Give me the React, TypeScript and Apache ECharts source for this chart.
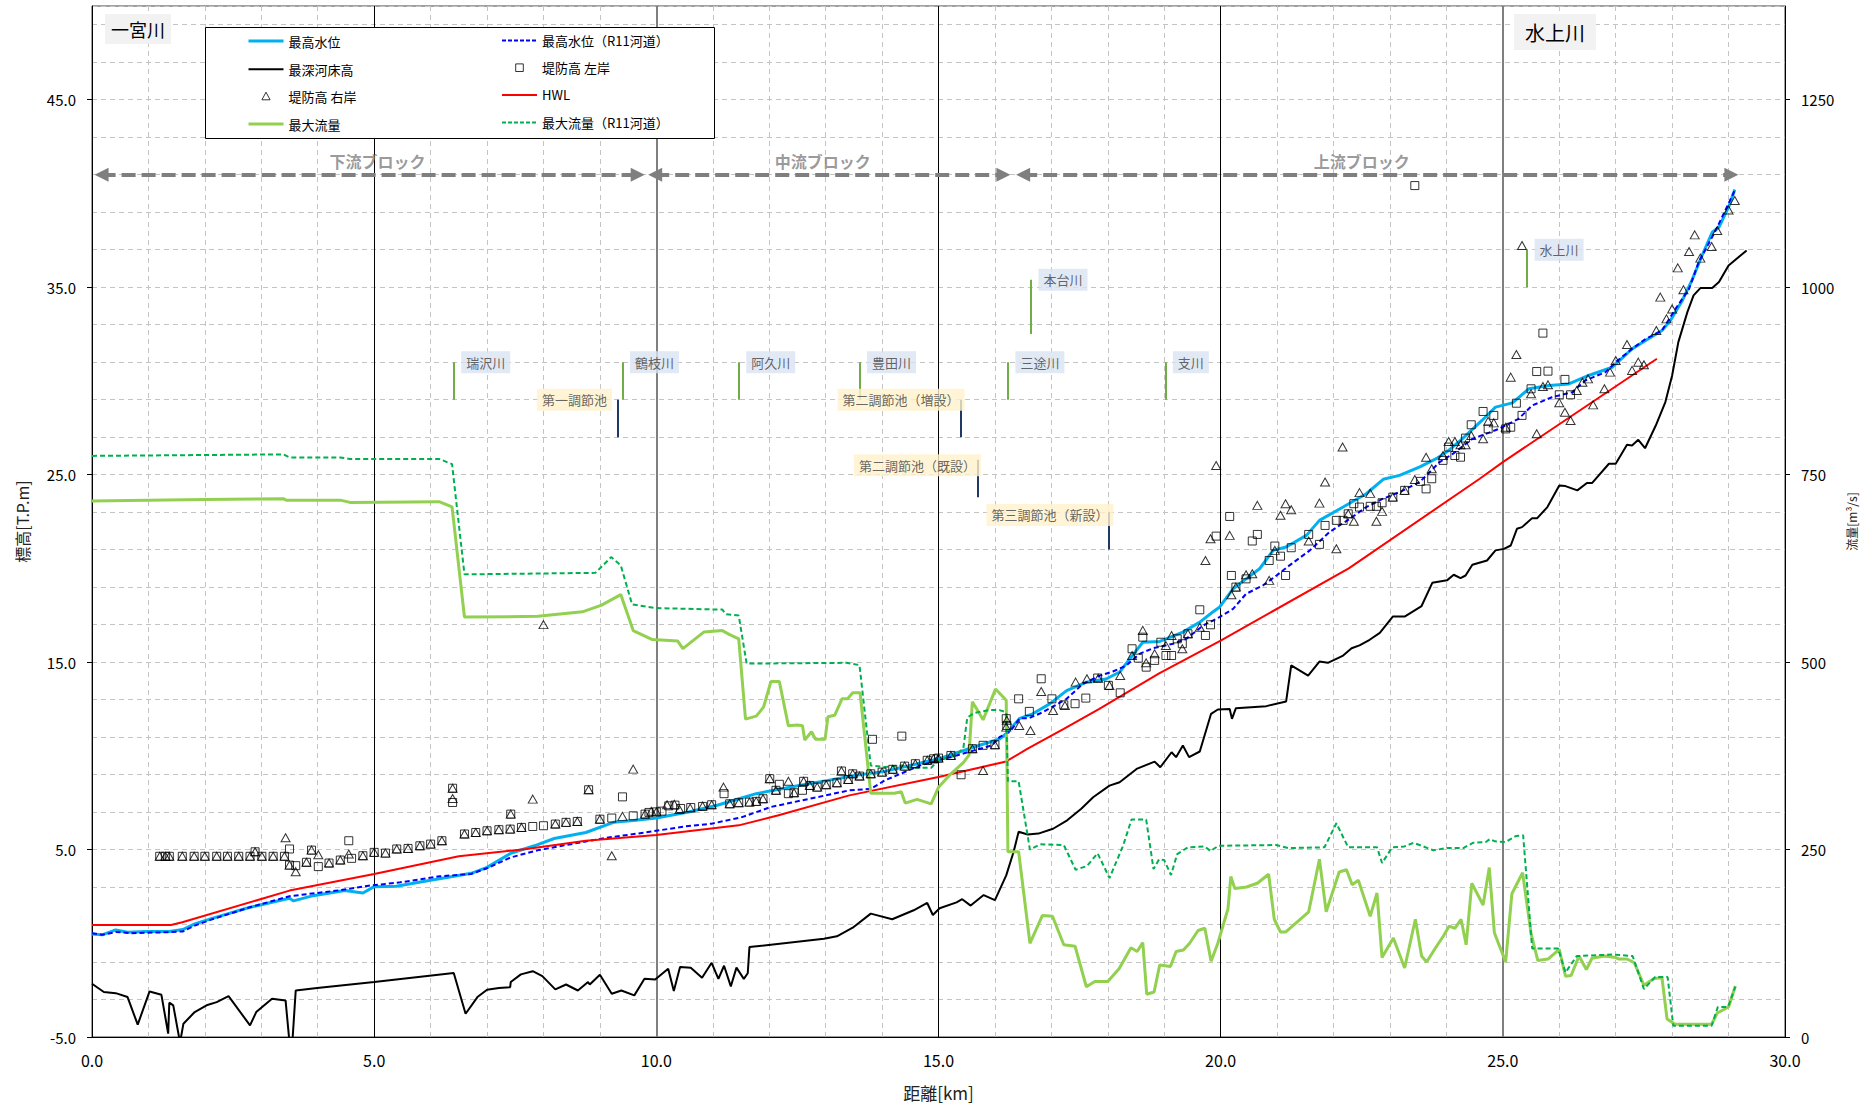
import React, { useEffect, useRef } from 'react';
import * as echarts from 'echarts';

// ---------------- axis ticks ----------------
const leftTicks = [-5, 5, 15, 25, 35, 45];
const rightTicks = [0, 250, 500, 750, 1000, 1250];

// ---------------- series data [km, value] ----------------
const maxWaterLevel = [
  [0, 0.5], [0.18, 0.45], [0.42, 0.71], [0.63, 0.59], [0.98, 0.63], [1.37, 0.63], [1.61, 0.73], [1.82, 1.03],
  [2.1, 1.3], [2.8, 1.92], [3.5, 2.4], [3.57, 2.26], [3.92, 2.54], [4.48, 2.81], [4.8, 2.68], [5.0, 3.02],
  [5.39, 3.04], [5.95, 3.34], [6.72, 3.73], [7.0, 4.05], [7.42, 4.8], [7.84, 5.2], [8.19, 5.59], [8.75, 5.91],
  [9.24, 6.45], [9.59, 6.55], [10.0, 6.68], [10.57, 7.0], [11.08, 7.36], [11.39, 7.64], [11.77, 7.98],
  [12.53, 8.42], [13.04, 8.69], [13.54, 8.96], [14.05, 9.17], [15.0, 9.84], [15.63, 10.47], [16.08, 10.9],
  [16.2, 11.18], [16.44, 12.0], [16.67, 12.24], [16.97, 12.77], [17.27, 13.48], [17.62, 13.93], [17.97, 14.1],
  [18.21, 14.47], [18.39, 15.17], [18.62, 16.06], [18.92, 16.1], [19.33, 16.6], [19.63, 17.13], [19.86, 17.67],
  [19.98, 17.93], [20.22, 18.91], [20.45, 19.44], [20.69, 19.98], [20.93, 20.96], [21.16, 21.14], [21.52, 21.76],
  [21.75, 22.56], [22.17, 23.27], [22.58, 23.98], [22.88, 24.75], [23.17, 24.96], [23.53, 25.41], [23.82, 25.85],
  [24.04, 26.29], [24.28, 26.91], [24.63, 27.89], [24.87, 28.6], [25.17, 28.83], [25.46, 29.58], [25.82, 29.76],
  [26.17, 29.84], [26.52, 30.29], [26.94, 30.73], [27.29, 31.71], [27.53, 32.16], [27.82, 32.69], [27.97, 33.22],
  [28.18, 34.29], [28.35, 35.36], [28.53, 36.69], [28.71, 37.93], [28.83, 38.2], [29.0, 39.27], [29.11, 40.21],
];

const maxWaterLevelR11 = [
  [0, 0.54], [0.18, 0.45], [0.42, 0.6], [0.7, 0.54], [1.33, 0.59], [1.61, 0.63], [1.82, 0.94], [2.1, 1.25],
  [2.8, 1.92], [3.5, 2.51], [4.34, 2.81], [4.9, 3.07], [5.46, 3.25], [6.16, 3.57], [6.72, 3.7], [7.0, 4.0],
  [7.42, 4.58], [7.91, 4.97], [8.4, 5.24], [9.1, 5.62], [9.8, 5.91], [10.5, 6.23], [10.98, 6.38], [11.52, 6.73],
  [12.03, 7.27], [12.78, 7.75], [13.42, 8.16], [13.8, 8.24], [14.05, 8.69], [14.68, 9.49], [15.32, 10.02],
  [15.95, 10.56], [16.08, 11.0], [16.27, 11.3], [16.44, 12.0], [16.6, 12.0], [16.85, 12.33], [17.27, 13.04],
  [17.56, 13.84], [17.86, 14.28], [18.09, 14.5], [18.33, 14.82], [18.56, 15.44], [18.8, 15.74], [19.16, 15.98],
  [19.39, 16.24], [19.69, 16.95], [19.98, 17.4], [20.22, 17.84], [20.45, 18.64], [20.75, 19.09], [20.99, 19.62],
  [21.22, 20.16], [21.58, 20.96], [21.93, 21.94], [22.29, 22.65], [22.58, 23.27], [22.88, 23.72], [23.17, 24.07],
  [23.53, 24.61], [23.88, 25.67], [24.12, 26.12], [24.46, 26.91], [24.93, 27.44], [25.28, 27.98], [25.52, 28.69],
  [25.87, 29.13], [26.23, 29.4], [26.46, 30.02], [26.82, 30.47], [27.0, 31.0], [27.29, 31.71], [27.53, 32.24],
  [27.82, 32.69], [28.06, 33.84], [28.3, 34.91], [28.47, 36.33], [28.77, 38.02], [29.11, 40.16],
];

const riverbedLowest = [
  [0, -2.16], [0.21, -2.6], [0.42, -2.66], [0.63, -2.87], [0.81, -4.34], [1.02, -2.57], [1.23, -2.75],
  [1.35, -4.82], [1.37, -3.17], [1.44, -3.31], [1.56, -5.3], [1.62, -4.29], [1.82, -3.67], [2.03, -3.31],
  [2.21, -3.14], [2.42, -2.82], [2.8, -4.38], [2.91, -3.67], [3.19, -2.96], [3.43, -3.05], [3.5, -5.3],
  [3.55, -5.3], [3.61, -2.52], [3.99, -2.39], [5.0, -2.07], [6.41, -1.59], [6.62, -3.76], [6.83, -2.87],
  [7.0, -2.48], [7.21, -2.39], [7.41, -2.34], [7.42, -2.07], [7.6, -1.66], [7.81, -1.49], [7.98, -1.75],
  [8.21, -2.46], [8.4, -2.2], [8.61, -2.52], [8.79, -2.07], [8.82, -2.2], [9.0, -1.68], [9.21, -2.69],
  [9.38, -2.52], [9.61, -2.78], [9.79, -1.89], [9.98, -1.93], [10.21, -1.36], [10.31, -2.55], [10.42, -1.27],
  [10.61, -1.31], [10.81, -1.84], [10.98, -1.04], [11.1, -1.9], [11.2, -1.2], [11.32, -2.3], [11.42, -1.3],
  [11.55, -1.9], [11.62, -1.6], [11.65, -0.2], [12.97, 0.24], [13.2, 0.37], [13.48, 0.83], [13.8, 1.58],
  [14.18, 1.28], [14.37, 1.52], [14.56, 1.76], [14.8, 2.15], [14.9, 1.51], [15.02, 1.87], [15.32, 2.18],
  [15.42, 2.35], [15.57, 2.01], [15.8, 2.57], [16.0, 2.3], [16.2, 3.62], [16.33, 4.87], [16.42, 5.95],
  [16.58, 5.8], [16.77, 5.85], [17.03, 6.11], [17.28, 6.56], [17.53, 7.18], [17.74, 7.79], [18.03, 8.41],
  [18.21, 8.59], [18.51, 9.3], [18.83, 9.69], [18.93, 9.39], [19.13, 10.19], [19.21, 9.93], [19.33, 10.55],
  [19.44, 9.93], [19.63, 10.23], [19.83, 12.24], [19.95, 12.47], [20.16, 12.5], [20.2, 11.97], [20.27, 12.54],
  [20.81, 12.65], [21.16, 12.9], [21.25, 14.82], [21.55, 14.28], [21.75, 15.03], [21.9, 14.96], [22.17, 15.35],
  [22.32, 15.74], [22.46, 15.89], [22.64, 16.19], [22.82, 16.56], [23.05, 17.43], [23.26, 17.43], [23.56, 17.99],
  [23.75, 19.23], [24.01, 19.36], [24.13, 19.66], [24.25, 19.48], [24.34, 19.62], [24.46, 20.19], [24.72, 20.42],
  [24.87, 20.96], [25.02, 21.04], [25.14, 21.22], [25.25, 22.11], [25.34, 22.2], [25.52, 22.68], [25.61, 22.68],
  [25.79, 23.27], [26.0, 24.42], [26.11, 24.39], [26.32, 24.16], [26.49, 24.55], [26.58, 24.55], [26.88, 25.58],
  [27.0, 25.58], [27.2, 26.59], [27.29, 26.56], [27.4, 26.86], [27.52, 26.41], [27.71, 27.62], [27.88, 28.87],
  [28.0, 30.29], [28.11, 32.07], [28.27, 33.67], [28.38, 34.56], [28.5, 34.95], [28.71, 34.95], [28.83, 35.27],
  [29.0, 36.16], [29.32, 36.96],
];

const leftBankHeight = [
  [1.2, 4.64], [1.3, 4.64], [1.37, 4.64], [1.6, 4.64], [1.81, 4.64], [2.0, 4.64], [2.21, 4.64], [2.4, 4.64],
  [2.6, 4.64], [2.8, 4.64], [2.89, 4.88], [3.01, 4.64], [3.21, 4.64], [3.41, 4.64], [3.5, 4.17], [3.5, 5.03],
  [3.61, 4.14], [3.8, 4.32], [3.89, 4.97], [4.01, 4.09], [4.2, 4.28], [4.4, 4.44], [4.55, 5.47], [4.6, 4.53],
  [4.8, 4.67], [5.0, 4.85], [5.2, 4.81], [5.4, 5.03], [5.6, 5.06], [5.81, 5.2], [6.0, 5.29], [6.2, 5.47],
  [6.39, 8.27], [6.39, 7.51], [6.6, 5.83], [6.8, 5.91], [7.0, 6.0], [7.21, 6.06], [7.41, 6.09], [7.42, 6.89],
  [7.61, 6.18], [7.81, 6.23], [8.0, 6.27], [8.21, 6.36], [8.4, 6.45], [8.6, 6.5], [8.8, 8.19], [9.0, 6.62],
  [9.21, 6.68], [9.4, 7.81], [9.59, 6.8], [9.8, 6.89], [9.87, 6.98], [10.0, 7.01], [10.1, 7.05], [10.22, 7.33],
  [10.33, 7.37], [10.43, 7.19], [10.61, 7.24], [10.82, 7.3], [10.98, 7.39], [11.2, 7.98], [11.3, 7.44],
  [11.46, 7.5], [11.65, 7.53], [11.77, 7.57], [11.89, 7.71], [12.01, 8.78], [12.12, 8.16], [12.18, 8.48],
  [12.34, 7.98], [12.44, 8.03], [12.59, 8.16], [12.61, 8.64], [12.72, 8.42], [12.85, 8.33], [13.01, 8.46],
  [13.2, 8.56], [13.28, 9.19], [13.4, 8.74], [13.48, 9.04], [13.6, 8.92], [13.8, 9.04], [13.83, 10.88],
  [14.0, 9.13], [14.19, 9.28], [14.35, 11.05], [14.4, 9.45], [14.59, 9.58], [14.8, 9.76], [14.91, 9.84],
  [15.0, 9.88], [15.22, 10.02], [15.4, 8.99], [15.6, 10.38], [15.79, 10.56], [16.0, 10.59], [16.2, 11.98],
  [16.21, 11.62], [16.42, 13.04], [16.61, 12.37], [16.82, 14.11], [17.01, 13.04], [17.22, 12.72], [17.42, 12.78],
  [17.61, 13.08], [17.82, 14.15], [18.01, 13.76], [18.22, 13.36], [18.43, 15.71], [18.54, 15.21], [18.62, 16.33],
  [18.68, 14.73], [18.83, 15.09], [18.94, 16.06], [19.03, 15.35], [19.13, 15.35], [19.23, 16.24], [19.32, 15.98],
  [19.42, 16.51], [19.63, 17.79], [19.73, 16.42], [19.82, 16.99], [19.92, 21.72], [20.16, 22.77], [20.19, 19.62],
  [20.27, 19.0], [20.45, 19.44], [20.56, 21.46], [20.65, 21.81], [20.86, 20.42], [20.96, 21.19], [21.06, 20.65],
  [21.15, 19.62], [21.25, 21.1], [21.56, 21.81], [21.75, 21.28], [21.85, 22.29], [22.05, 22.56], [22.17, 22.56],
  [22.26, 22.91], [22.36, 23.45], [22.46, 23.27], [22.65, 23.31], [22.76, 23.31], [22.86, 23.5], [23.05, 23.8],
  [23.26, 24.16], [23.44, 40.42], [23.54, 24.64], [23.64, 24.24], [23.74, 24.78], [23.94, 25.76], [24.04, 26.47],
  [24.15, 26.02], [24.25, 25.93], [24.34, 26.95], [24.44, 27.66], [24.65, 28.37], [24.74, 27.44], [24.84, 28.16],
  [25.05, 27.44], [25.14, 27.53], [25.24, 28.81], [25.34, 28.16], [25.5, 29.58], [25.6, 30.5], [25.71, 32.55],
  [25.8, 30.52], [26.0, 29.26], [26.1, 30.08], [26.2, 29.26],
];

const rightBankHeight = [
  [1.2, 4.64], [1.3, 4.64], [1.37, 4.64], [1.6, 4.64], [1.81, 4.64], [2.0, 4.64], [2.21, 4.64], [2.4, 4.64],
  [2.6, 4.64], [2.8, 4.64], [2.89, 4.88], [3.01, 4.64], [3.21, 4.64], [3.41, 4.64], [3.43, 5.63], [3.5, 4.17],
  [3.61, 3.82], [3.8, 4.32], [3.89, 4.97], [4.01, 4.72], [4.2, 4.28], [4.4, 4.44], [4.55, 4.76], [4.8, 4.67],
  [5.0, 4.85], [5.2, 4.81], [5.4, 5.03], [5.6, 5.06], [5.81, 5.2], [6.0, 5.29], [6.2, 5.47], [6.39, 8.27],
  [6.39, 7.72], [6.6, 5.83], [6.8, 5.91], [7.0, 6.0], [7.21, 6.06], [7.41, 6.09], [7.42, 6.89], [7.61, 6.18],
  [7.81, 7.69], [8.0, 17.0], [8.21, 6.36], [8.4, 6.45], [8.6, 6.5], [8.8, 8.19], [9.0, 6.62], [9.21, 4.67],
  [9.4, 6.77], [9.59, 9.29], [9.8, 6.89], [9.91, 7.04], [10.0, 7.01], [10.19, 7.39], [10.32, 7.41], [10.41, 7.14],
  [10.6, 7.21], [10.82, 7.32], [10.98, 7.39], [11.19, 8.33], [11.3, 7.44], [11.46, 7.5], [11.65, 7.53],
  [11.77, 7.57], [11.89, 7.71], [12.01, 8.78], [12.12, 8.16], [12.34, 8.64], [12.44, 8.03], [12.61, 8.64],
  [12.72, 8.42], [12.85, 8.33], [13.01, 8.46], [13.2, 8.56], [13.28, 9.19], [13.4, 8.74], [13.48, 9.04],
  [13.6, 8.92], [13.8, 9.04], [14.0, 9.13], [14.19, 9.28], [14.4, 9.45], [14.59, 9.58], [14.8, 9.76],
  [14.91, 9.84], [15.0, 9.88], [15.22, 10.02], [15.6, 10.38], [15.79, 9.22], [16.0, 10.59], [16.2, 11.53],
  [16.21, 11.9], [16.43, 11.62], [16.63, 11.35], [16.82, 13.43], [17.03, 12.42], [17.24, 12.68], [17.43, 13.93],
  [17.63, 14.11], [17.83, 14.14], [18.03, 13.75], [18.22, 14.28], [18.43, 15.35], [18.62, 16.69], [18.68, 14.96],
  [18.83, 15.44], [19.03, 15.88], [19.13, 16.42], [19.32, 15.71], [19.42, 16.51], [19.63, 16.86], [19.73, 20.42],
  [19.82, 21.58], [19.92, 25.49], [20.16, 21.76], [20.19, 18.59], [20.27, 19.0], [20.45, 19.66], [20.56, 19.71],
  [20.65, 23.36], [20.86, 19.36], [20.96, 20.96], [21.06, 22.83], [21.15, 23.45], [21.25, 23.13], [21.56, 21.46],
  [21.75, 23.48], [21.85, 24.61], [22.05, 21.05], [22.16, 26.47], [22.26, 22.91], [22.36, 22.51], [22.46, 24.04],
  [22.65, 24.0], [22.76, 22.51], [22.86, 23.04], [23.05, 23.8], [23.26, 24.16], [23.44, 24.74], [23.64, 25.93],
  [23.74, 25.31], [23.94, 26.02], [24.04, 26.77], [24.15, 26.77], [24.25, 26.59], [24.34, 26.59], [24.44, 27.09],
  [24.65, 26.91], [24.74, 27.84], [24.84, 27.76], [25.05, 27.53], [25.14, 30.2], [25.24, 31.41], [25.34, 37.22],
  [25.5, 29.31], [25.6, 27.18], [25.71, 29.7], [25.8, 29.79], [26.0, 28.83], [26.1, 28.33], [26.2, 27.89],
  [26.31, 29.49], [26.41, 29.93], [26.51, 30.11], [26.6, 28.72], [26.8, 29.58], [26.9, 30.47], [27.0, 31.09],
  [27.2, 31.94], [27.29, 30.56], [27.4, 31.0], [27.5, 30.86], [27.72, 32.69], [27.79, 34.47], [27.9, 33.31],
  [28.0, 33.84], [28.1, 36.03], [28.2, 34.86], [28.3, 36.9], [28.4, 37.79], [28.5, 36.55], [28.7, 37.17],
  [28.8, 38.02], [29.0, 39.12], [29.11, 39.62],
];

const hwl = [
  [0, 0.98], [1.4, 0.98], [1.6, 1.12], [3.5, 2.81], [5.0, 3.7], [6.5, 4.64], [7.7, 5.03], [8.75, 5.47],
  [10.0, 5.78], [11.46, 6.29], [12.15, 6.82], [13.42, 7.89], [15.0, 8.87], [16.2, 9.7], [16.58, 10.38],
  [17.22, 11.44], [17.85, 12.51], [18.91, 14.4], [20.0, 16.15], [22.27, 20.0], [24.59, 24.78], [25.0, 25.67],
  [27.73, 31.18],
];

const maxFlow = [
  [0, 715], [2.0, 717], [3.39, 718], [3.44, 716], [4.4, 716], [4.57, 713], [6.15, 714], [6.38, 707], [6.6, 560],
  [7.9, 561], [8.69, 567], [9.03, 576], [9.37, 590], [9.59, 542], [9.93, 530], [10.38, 528], [10.47, 518],
  [10.84, 540], [11.17, 542], [11.29, 537], [11.46, 531], [11.58, 424], [11.77, 428], [11.9, 440], [12.03, 474],
  [12.18, 474], [12.34, 415], [12.5, 416], [12.59, 415], [12.63, 396], [12.75, 407], [12.82, 397], [12.99, 397],
  [13.04, 427], [13.16, 429], [13.29, 451], [13.39, 451], [13.48, 459], [13.61, 459], [13.8, 325], [14.05, 325],
  [14.22, 325], [14.34, 327], [14.41, 312], [14.62, 317], [14.87, 311], [15.0, 333], [15.22, 351], [15.44, 366],
  [15.54, 376], [15.6, 447], [15.79, 423], [16.01, 464], [16.2, 449], [16.23, 247], [16.42, 247], [16.62, 125],
  [16.84, 162], [17.02, 161], [17.22, 123], [17.42, 121], [17.62, 67], [17.77, 74], [18.0, 74], [18.2, 91],
  [18.41, 119], [18.52, 114], [18.62, 126], [18.69, 57], [18.82, 60], [18.92, 96], [19.11, 94], [19.21, 114],
  [19.34, 116], [19.45, 125], [19.6, 142], [19.72, 145], [19.83, 101], [19.95, 125], [20.13, 171], [20.18, 214],
  [20.25, 198], [20.46, 200], [20.65, 205], [20.85, 217], [20.95, 157], [21.06, 140], [21.15, 140], [21.56, 167],
  [21.75, 237], [21.87, 167], [22.1, 220], [22.23, 223], [22.33, 203], [22.44, 209], [22.65, 161], [22.77, 192],
  [22.86, 106], [23.06, 132], [23.26, 92], [23.45, 157], [23.56, 108], [23.65, 100], [23.8, 118], [23.95, 135],
  [24.05, 148], [24.15, 145], [24.26, 157], [24.35, 123], [24.45, 205], [24.65, 176], [24.76, 226], [24.85, 139],
  [25.05, 100], [25.16, 191], [25.35, 219], [25.5, 138], [25.62, 102], [25.8, 104], [26.0, 117], [26.11, 81],
  [26.21, 82], [26.35, 108], [26.48, 90], [26.58, 105], [26.8, 108], [27.0, 106], [27.06, 104], [27.2, 104],
  [27.33, 99], [27.5, 69], [27.68, 78], [27.82, 79], [27.91, 24], [28.05, 17], [28.7, 17], [28.8, 32], [29.0, 40],
  [29.12, 68],
];

const maxFlowR11 = [
  [0, 775], [3.39, 777], [3.5, 773], [4.4, 773], [4.57, 771], [6.15, 771], [6.38, 764], [6.6, 617], [8.92, 619],
  [9.2, 640], [9.37, 629], [9.57, 577], [9.99, 572], [11.17, 570], [11.23, 564], [11.46, 562], [11.6, 498],
  [13.37, 499], [13.6, 496], [13.8, 362], [14.05, 360], [14.37, 362], [14.43, 359], [14.87, 359], [15.0, 369],
  [15.32, 376], [15.44, 385], [15.51, 426], [15.63, 432], [15.89, 436], [16.08, 436], [16.2, 433], [16.23, 341],
  [16.42, 341], [16.62, 250], [16.8, 257], [17.22, 256], [17.43, 223], [17.63, 228], [17.82, 245], [18.03, 212],
  [18.27, 255], [18.42, 290], [18.68, 290], [18.81, 224], [18.91, 237], [19.0, 236], [19.12, 216], [19.23, 244],
  [19.42, 253], [19.72, 254], [19.82, 248], [19.96, 255], [20.98, 256], [21.2, 252], [21.84, 253], [22.05, 285],
  [22.26, 253], [22.77, 253], [22.86, 232], [23.04, 253], [23.25, 254], [23.42, 259], [23.77, 249], [24.0, 252],
  [24.3, 252], [24.47, 259], [24.7, 260], [24.77, 264], [24.86, 261], [25.05, 260], [25.23, 268], [25.36, 269],
  [25.52, 118], [25.98, 118], [26.11, 86], [26.31, 108], [26.95, 110], [27.3, 108], [27.5, 64], [27.7, 80],
  [27.92, 80], [28.02, 15], [28.7, 15], [28.81, 40], [28.99, 40], [29.12, 67],
];

// ---------------- annotations ----------------
const tributaries = [
  { name: '瑞沢川', km: 6.41, y0: 29, y1: 31 },
  { name: '鶴枝川', km: 9.4, y0: 29, y1: 31 },
  { name: '阿久川', km: 11.46, y0: 29, y1: 31 },
  { name: '豊田川', km: 13.6, y0: 29, y1: 31 },
  { name: '三途川', km: 16.23, y0: 29, y1: 31 },
  { name: '支川', km: 19.02, y0: 29, y1: 31 },
  { name: '本台川', km: 16.64, y0: 32.5, y1: 35.4 },
  { name: '水上川', km: 25.43, y0: 35, y1: 37 },
];

const ponds = [
  { name: '第一調節池', km: 9.31, y0: 27, y1: 29, labelY: 29, shift: 0 },
  { name: '第二調節池（増設）', km: 15.4, y0: 27, y1: 29, labelY: 29, shift: 9 },
  { name: '第二調節池（既設）', km: 15.69, y0: 23.8, y1: 25.8, labelY: 25.5, shift: 9 },
  { name: '第三調節池（新設）', km: 18.02, y0: 21, y1: 23, labelY: 22.85, shift: 10 },
];

const blocks = [
  { name: '下流ブロック', from: 0.17, to: 9.67, labelKm: 5.06, y: 41 },
  { name: '中流ブロック', from: 9.98, to: 16.15, labelKm: 12.95, y: 41 },
  { name: '上流ブロック', from: 16.5, to: 29.05, labelKm: 22.5, y: 41 },
];

const FONT = "'Noto Sans CJK JP', 'Noto Sans', sans-serif";

const lineIcon = 'path://M0,0M350,140M0,70L350,70';
const squareIcon = 'path://M0,0M350,140M137,32L213,32L213,108L137,108Z';
const triIcon = 'path://M0,0M350,140M175,28L216,104L134,104Z';

function legendItem(name: string, icon: string, color: string, width: number, dashed?: boolean) {
  return {
    name,
    icon,
    itemStyle: {
      color: 'transparent',
      borderColor: color,
      borderWidth: width,
      borderType: dashed ? [4, 2] : 'solid',
    },
  };
}

function buildOption() {
  const legendCommon = {
    orient: 'vertical',
    itemWidth: 35,
    itemHeight: 14,
    itemGap: 11.7,
    symbolKeepAspect: false,
    padding: 0,
    selectedMode: false,
    z: 10,
    textStyle: { fontSize: 13, color: '#000', fontFamily: FONT, lineHeight: 14 },
  };

  const hiddenAxisParts = {
    axisLine: { show: false },
    axisTick: { show: false },
    axisLabel: { show: false },
  };

  return {
    animation: false,
    backgroundColor: '#ffffff',
    textStyle: { fontFamily: FONT },
    title: [
      {
        text: '一宮川',
        left: 105,
        top: 14,
        backgroundColor: '#F2F2F2',
        padding: [6, 6],
        textStyle: { fontSize: 18, fontWeight: 'normal', color: '#000', fontFamily: FONT },
      },
      {
        text: '水上川',
        left: 1514,
        top: 14,
        backgroundColor: '#F2F2F2',
        padding: [8, 11],
        textStyle: { fontSize: 20, fontWeight: 'normal', color: '#000', fontFamily: FONT },
      },
    ],
    graphic: [
      {
        type: 'rect',
        z: 3,
        silent: true,
        shape: { x: 205.5, y: 27.5, width: 509, height: 111 },
        style: { fill: '#ffffff', stroke: '#000000', lineWidth: 1 },
      },
    ],
    legend: [
      {
        ...legendCommon,
        left: 247,
        top: 32.5,
        data: [
          legendItem('最高水位', lineIcon, '#00B0F0', 3),
          legendItem('最深河床高', lineIcon, '#000000', 2),
          legendItem('堤防高 右岸', triIcon, '#000000', 1),
          legendItem('最大流量', lineIcon, '#92D050', 3),
        ],
      },
      {
        ...legendCommon,
        left: 501,
        top: 32.5,
        data: [
          legendItem('最高水位（R11河道）', lineIcon, '#0000FF', 2, true),
          legendItem('堤防高 左岸', squareIcon, '#000000', 1),
          legendItem('HWL', lineIcon, '#FF0000', 2),
          legendItem('最大流量（R11河道）', lineIcon, '#00B050', 2, true),
        ],
      },
    ],
    grid: {
      left: 92,
      right: 87,
      top: 6,
      bottom: 70,
      show: true,
      borderColor: '#404040',
      borderWidth: 1,
      backgroundColor: 'transparent',
      outerBoundsMode: 'none',
    },
    xAxis: [
      {
        type: 'value',
        min: 0,
        max: 30,
        interval: 5,
        position: 'bottom',
        z: 1,
        axisLine: { show: true, onZero: false, lineStyle: { color: '#000', width: 1 } },
        axisTick: { show: false },
        axisLabel: {
          fontSize: 16,
          color: '#000',
          margin: 15,
          fontFamily: FONT,
          formatter: (v: number) => v.toFixed(1),
        },
        splitLine: {
          show: true,
          lineStyle: {
            color: ['transparent', '#000000', 'transparent', '#000000', '#000000', 'transparent', 'transparent'],
            width: 1,
          },
        },
        name: '距離[km]',
        nameLocation: 'middle',
        nameGap: 47,
        nameTextStyle: { fontSize: 17, color: '#222', fontFamily: FONT },
      },
      {
        type: 'value',
        min: 0,
        max: 30,
        interval: 1,
        position: 'bottom',
        z: 0,
        ...hiddenAxisParts,
        splitLine: { show: true, lineStyle: { color: '#C4C4C4', type: [5, 4], width: 1 } },
      },
      {
        type: 'value',
        min: 0,
        max: 30,
        interval: 5,
        position: 'bottom',
        z: 1,
        ...hiddenAxisParts,
        splitLine: {
          show: true,
          lineStyle: {
            color: ['transparent', 'transparent', '#7F7F7F', 'transparent', 'transparent', '#7F7F7F', 'transparent'],
            width: 2,
          },
        },
      },
    ],
    yAxis: [
      {
        type: 'value',
        min: -5,
        max: 50,
        interval: 10,
        position: 'left',
        z: 1,
        axisLine: { show: true, onZero: false, lineStyle: { color: '#000', width: 1 } },
        axisTick: { show: true, length: 5, customValues: leftTicks, lineStyle: { color: '#000' } },
        axisLabel: {
          customValues: leftTicks,
          fontSize: 15,
          color: '#000',
          margin: 16,
          fontFamily: FONT,
          formatter: (v: number) => v.toFixed(1),
        },
        splitLine: { show: false },
        name: '標高[T.P.m]',
        nameLocation: 'middle',
        nameGap: 62,
        nameRotate: 90,
        nameTextStyle: { fontSize: 16, color: '#222', fontFamily: FONT },
      },
      {
        type: 'value',
        min: 0,
        max: 1375,
        interval: 250,
        position: 'right',
        alignTicks: false,
        z: 1,
        axisLine: { show: true, onZero: false, lineStyle: { color: '#000', width: 1 } },
        axisTick: { show: true, length: 5, customValues: rightTicks, lineStyle: { color: '#000' } },
        axisLabel: {
          customValues: rightTicks,
          fontSize: 15,
          color: '#000',
          margin: 16,
          fontFamily: FONT,
          formatter: (v: number) => String(Math.round(v)),
        },
        splitLine: { show: false },
        name: '流量[m³/s]',
        nameLocation: 'middle',
        nameGap: 60,
        nameRotate: 90,
        nameTextStyle: { fontSize: 12, color: '#222', fontFamily: FONT },
      },
      {
        type: 'value',
        min: -5,
        max: 50,
        interval: 2,
        position: 'left',
        z: 0,
        ...hiddenAxisParts,
        splitLine: { show: true, lineStyle: { color: '#C4C4C4', type: [5, 4], width: 1 } },
      },
    ],
    series: [
      {
        name: '最高水位',
        type: 'line',
        xAxisIndex: 0,
        yAxisIndex: 0,
        data: maxWaterLevel,
        symbol: 'none',
        silent: true,
        lineStyle: { color: '#00B0F0', width: 3 },
        itemStyle: { color: '#00B0F0' },
        z: 3,
      },
      {
        name: '最高水位（R11河道）',
        type: 'line',
        xAxisIndex: 0,
        yAxisIndex: 0,
        data: maxWaterLevelR11,
        symbol: 'none',
        silent: true,
        lineStyle: { color: '#0000FF', width: 2, type: [5, 3] },
        itemStyle: { color: '#0000FF' },
        z: 3,
      },
      {
        name: '最深河床高',
        type: 'line',
        xAxisIndex: 0,
        yAxisIndex: 0,
        data: riverbedLowest,
        symbol: 'none',
        silent: true,
        lineStyle: { color: '#000000', width: 2 },
        itemStyle: { color: '#000000' },
        z: 3,
      },
      {
        name: '堤防高 左岸',
        type: 'scatter',
        xAxisIndex: 0,
        yAxisIndex: 0,
        data: leftBankHeight,
        symbol: 'rect',
        symbolSize: 8,
        silent: true,
        itemStyle: { color: 'rgba(255,255,255,0)', borderColor: '#000000', borderWidth: 1 },
        z: 4,
      },
      {
        name: '堤防高 右岸',
        type: 'scatter',
        xAxisIndex: 0,
        yAxisIndex: 0,
        data: rightBankHeight,
        symbol: 'triangle',
        symbolSize: [9, 8],
        silent: true,
        itemStyle: { color: 'rgba(255,255,255,0)', borderColor: '#000000', borderWidth: 1 },
        z: 4,
      },
      {
        name: 'HWL',
        type: 'line',
        xAxisIndex: 0,
        yAxisIndex: 0,
        data: hwl,
        symbol: 'none',
        silent: true,
        lineStyle: { color: '#FF0000', width: 2 },
        itemStyle: { color: '#FF0000' },
        z: 3,
      },
      {
        name: '最大流量',
        type: 'line',
        xAxisIndex: 0,
        yAxisIndex: 1,
        data: maxFlow,
        symbol: 'none',
        silent: true,
        lineStyle: { color: '#92D050', width: 3 },
        itemStyle: { color: '#92D050' },
        z: 3,
      },
      {
        name: '最大流量（R11河道）',
        type: 'line',
        xAxisIndex: 0,
        yAxisIndex: 1,
        data: maxFlowR11,
        symbol: 'none',
        silent: true,
        lineStyle: { color: '#00B050', width: 2, type: [5, 3] },
        itemStyle: { color: '#00B050' },
        z: 3,
      },
      // block arrows with labels
      {
        name: 'blocks',
        type: 'scatter',
        xAxisIndex: 0,
        yAxisIndex: 0,
        silent: true,
        symbolSize: 1,
        itemStyle: { color: 'transparent' },
        z: 5,
        data: blocks.map((b) => ({ name: b.name, value: [b.labelKm, b.y] })),
        label: {
          show: true,
          position: 'top',
          distance: 5,
          formatter: '{b}',
          color: '#7F7F7F',
          fontSize: 16,
          fontWeight: 'bold',
          fontFamily: FONT,
        },
        markLine: {
          silent: true,
          symbol: ['triangle', 'triangle'],
          symbolSize: 14,
          label: { show: false },
          lineStyle: { color: '#7F7F7F', width: 4, type: [14, 6] },
          data: blocks.map((b) => [{ coord: [b.from, b.y] }, { coord: [b.to, b.y] }]),
        },
      },
      // tributaries
      {
        name: 'tributaries',
        type: 'scatter',
        xAxisIndex: 0,
        yAxisIndex: 0,
        silent: true,
        symbolSize: 1,
        itemStyle: { color: 'transparent' },
        z: 6,
        data: tributaries.map((t) => ({ name: t.name, value: [t.km, t.y1] })),
        label: {
          show: true,
          position: 'right',
          distance: 7,
          formatter: '{b}',
          backgroundColor: '#DAE3F3',
          padding: [4, 5],
          color: '#404040',
          fontSize: 13,
          lineHeight: 14,
          fontFamily: FONT,
        },
        markLine: {
          silent: true,
          symbol: ['none', 'none'],
          label: { show: false },
          lineStyle: { color: '#70AD47', width: 2, type: 'solid' },
          data: tributaries.map((t) => [{ coord: [t.km, t.y0] }, { coord: [t.km, t.y1] }]),
        },
      },
      // regulating ponds
      {
        name: 'ponds',
        type: 'scatter',
        xAxisIndex: 0,
        yAxisIndex: 0,
        silent: true,
        symbolSize: 1,
        itemStyle: { color: 'transparent' },
        z: 7,
        data: ponds.map((p) => ({
          name: p.name,
          value: [p.km, p.labelY],
          label: { offset: [p.shift, 0] },
        })),
        label: {
          show: true,
          position: 'left',
          distance: 5,
          formatter: '{b}',
          backgroundColor: '#FFF2CC',
          padding: [4, 5],
          color: '#404040',
          fontSize: 13,
          lineHeight: 14,
          fontFamily: FONT,
        },
        markLine: {
          silent: true,
          symbol: ['none', 'none'],
          label: { show: false },
          lineStyle: { color: '#1F3864', width: 2, type: 'solid' },
          data: ponds.map((p) => [{ coord: [p.km, p.y0] }, { coord: [p.km, p.y1] }]),
        },
      },
    ],
  };
}

export default function App() {
  const ref = useRef<HTMLDivElement>(null);
  useEffect(() => {
    document.body.style.margin = '0';
    const chart = echarts.init(ref.current as HTMLDivElement, null, { renderer: 'svg' });
    chart.setOption(buildOption() as any);
    return () => {
      chart.dispose();
    };
  }, []);
  return <div ref={ref} style={{ width: 1872, height: 1107 }} />;
}
